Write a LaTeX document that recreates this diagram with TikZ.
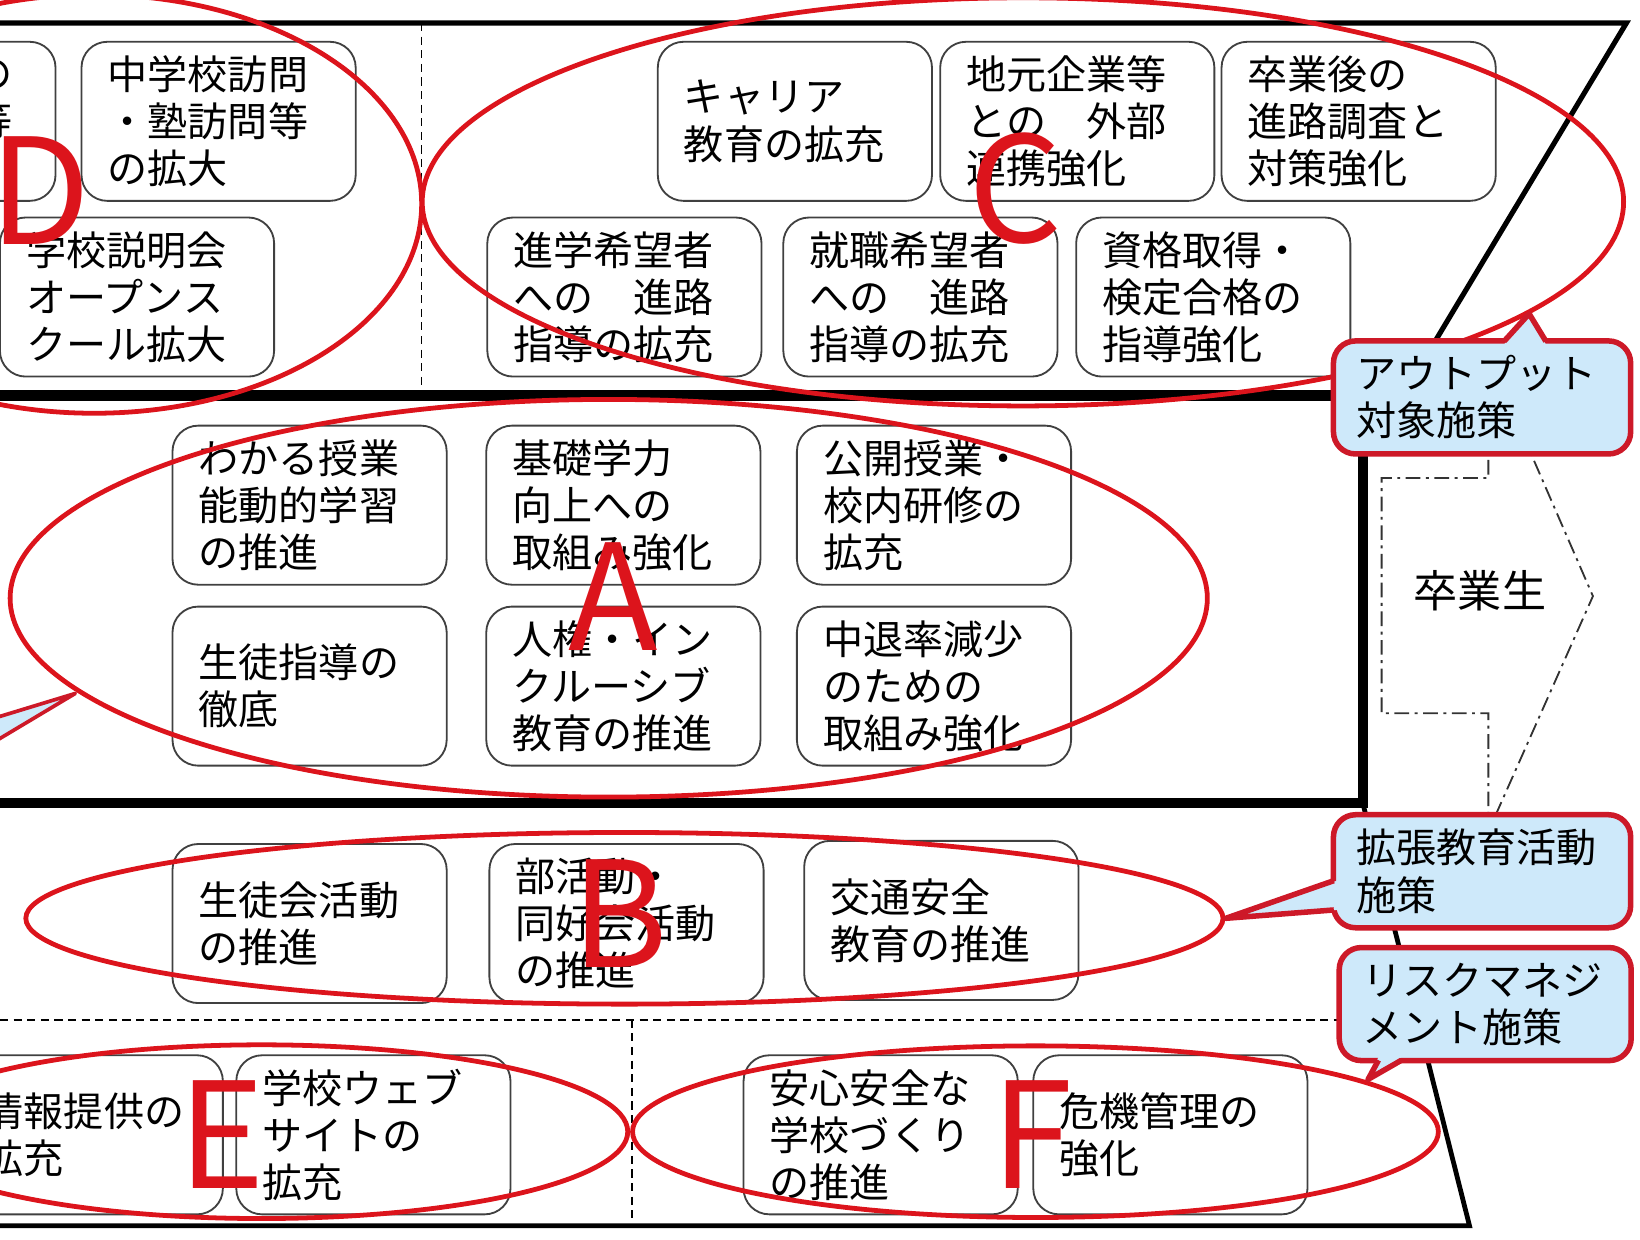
\documentclass[tikz,border=0pt]{standalone}
\usepackage{fontspec}
\setmainfont{Noto Sans CJK JP}
\newcommand{\pfont}{\fontsize{10.9pt}{12.8pt}\selectfont}
\newcommand{\bigfont}{\fontsize{40pt}{40pt}\selectfont}
\newcommand{\gfont}{\fontsize{12pt}{14pt}\selectfont}
\definecolor{ered}{RGB}{220,20,28}
\definecolor{cfill}{RGB}{206,233,250}
\definecolor{cborder}{RGB}{205,25,40}
\begin{document}
\begin{tikzpicture}[x=0.01cm,y=-0.01cm,
  pbox/.style={draw=black!75, line width=0.5pt, rounded corners=7pt, text width=2.12cm, inner xsep=0.25cm, inner ysep=0pt, minimum height=1.52cm, align=left, font=\pfont},
  callout/.style={draw=cborder, fill=cfill, line width=1.5pt, rounded corners=6pt, text width=2.4cm, inner xsep=0.22cm, inner ysep=0pt, minimum height=1.08cm, align=left, font=\pfont},
  ring/.style={draw=ered, line width=1.3pt},
  bigletter/.style={text=ered, font=\bigfont, inner sep=0pt},
  dashline/.style={dash pattern=on 2.2pt off 1.5pt, line width=0.5pt},
  dashdotline/.style={dash pattern=on 4pt off 1.5pt on 0.8pt off 1.5pt, line width=0.5pt, draw=black!80},
  tailfill/.style={fill=cfill},
  tailline/.style={draw=cborder, line width=1.5pt, line join=round},
]
\useasboundingbox (0,0) rectangle (1568,1185);
\clip (0,0) rectangle (1568,1185);
% frame
\draw[line width=1.4pt] (0,22) -- (1555,22) -- (1341,378);
\draw[line width=2.8pt] (0,378) -- (1341,378);
\draw[line width=2.8pt] (1303,378) -- (1303,768) -- (0,768);
\draw[line width=1.3pt] (1303,768) -- (1405,1172) -- (0,1172);
\draw[dashline] (403,22) -- (403,378);
\draw[dashline] (0,975) -- (1355,975);
\draw[dashline] (604,975) -- (604,1172);
% D region
\node[pbox, text width=2.12cm, inner xsep=0.41cm, align=right] (d0) at (-94,116) {の\\等\\\mbox{}};
\node[pbox] (d1) at (209,116) {中学校訪問\\・塾訪問等\\の拡大};
\node[pbox] (d2) at (131,284) {学校説明会\\オープンス\\クール拡大};
% C region
\node[pbox] (c1) at (760,116) {キャリア\\教育の拡充};
\node[pbox] (c2) at (1030,116) {地元企業等\\との　外部\\連携強化};
\node[pbox] (c3) at (1299,116) {卒業後の\\進路調査と\\対策強化};
\node[pbox] (c4) at (597,284) {進学希望者\\への　進路\\指導の拡充};
\node[pbox] (c5) at (880,284) {就職希望者\\への　進路\\指導の拡充};
\node[pbox] (c6) at (1160,284) {資格取得・\\検定合格の\\指導強化};
% A region
\node[pbox] (a1) at (296,483) {わかる授業\\能動的学習\\の推進};
\node[pbox] (a2) at (596,483) {基礎学力\\向上への\\取組み強化};
\node[pbox] (a3) at (893,483) {公開授業・\\校内研修の\\拡充};
\node[pbox] (a4) at (296,656) {生徒指導の\\徹底};
\node[pbox] (a5) at (596,656) {人権・イン\\クルーシブ\\教育の推進};
\node[pbox] (a6) at (893,656) {中退率減少\\のための\\取組み強化};
% B region
\node[pbox] (b1) at (296,883) {生徒会活動\\の推進};
\node[pbox] (b2) at (599,883) {部活動・\\同好会活動\\の推進};
\node[pbox] (b3) at (900,880) {交通安全\\教育の推進};
% E F region
\node[pbox, text width=1.95cm, inner xsep=0.335cm] (e1) at (82,1085) {情報提供の\\拡充};
\node[pbox] (e2) at (357,1085) {学校ウェブ\\サイトの\\拡充};
\node[pbox] (f1) at (842,1085) {安心安全な\\学校づくり\\の推進};
\node[pbox] (f2) at (1119,1085) {危機管理の\\強化};
% graduates arrow
\draw[dashdotline] (1423,340) -- (1523,570) -- (1423,795) -- (1423,682) -- (1321,682) -- (1321,457) -- (1423,457) -- cycle;
\node[font=\gfont] (grad) at (1415,565) {卒業生};
% red ellipses
\draw[ring] (90,195) ellipse [x radius=3.13cm, y radius=2.0cm];
\draw[ring] (978,193) ellipse [x radius=5.74cm, y radius=1.95cm];
\draw[ring] (582,572) ellipse [x radius=5.72cm, y radius=1.9cm];
\draw[ring] (597,878) ellipse [x radius=5.72cm, y radius=0.82cm];
\draw[ring] (250,1082) ellipse [x radius=3.5cm, y radius=0.83cm];
\draw[ring] (990,1082) ellipse [x radius=3.85cm, y radius=0.82cm];
% letters
\node[bigletter] (lD) at (38,182) {D};
\node[bigletter] (lC) at (971,180) {C};
\node[bigletter] (lA) at (586,570) {A};
\node[bigletter] (lB) at (593,873) {B};
\node[bigletter] (lE) at (212,1085) {E};
\node[bigletter] (lF) at (987,1085) {F};
% tail of a callout outside the picture
\filldraw[draw=cborder, fill=cfill, line width=1pt, line join=round] (-10,688) -- (72,663) -- (-10,712) -- cycle;
% callouts
\coordinate (t1) at (1462,300);
\coordinate (t2) at (1172,878);
\coordinate (t3) at (1308,1032);
\node[callout] (co1) at (1417,380) {アウトプット\\対象施策};
\fill[tailfill] ([xshift=0.21cm,yshift=-0.06cm]co1.north) -- (t1) -- ([xshift=0.61cm,yshift=-0.06cm]co1.north) -- cycle;
\draw[tailline] ([xshift=0.21cm,yshift=-0.03cm]co1.north) -- (t1) -- ([xshift=0.61cm,yshift=-0.03cm]co1.north);
\node[callout] (co2) at (1417,833) {拡張教育活動\\施策};
\fill[tailfill] ([xshift=0.06cm,yshift=-0.09cm]co2.west) -- (t2) -- ([xshift=0.06cm,yshift=-0.37cm]co2.west) -- cycle;
\draw[tailline] ([xshift=0.03cm,yshift=-0.09cm]co2.west) -- (t2) -- ([xshift=0.03cm,yshift=-0.37cm]co2.west);
\node[callout, text width=2.35cm] (co3) at (1420,960) {リスクマネジ\\メント施策};
\fill[tailfill] ([xshift=-1.02cm,yshift=0.06cm]co3.south) -- (t3) -- ([xshift=-0.8cm,yshift=0.06cm]co3.south) -- cycle;
\draw[tailline] ([xshift=-1.02cm,yshift=0.03cm]co3.south) -- (t3) -- ([xshift=-0.8cm,yshift=0.03cm]co3.south);
\end{tikzpicture}
\end{document}
